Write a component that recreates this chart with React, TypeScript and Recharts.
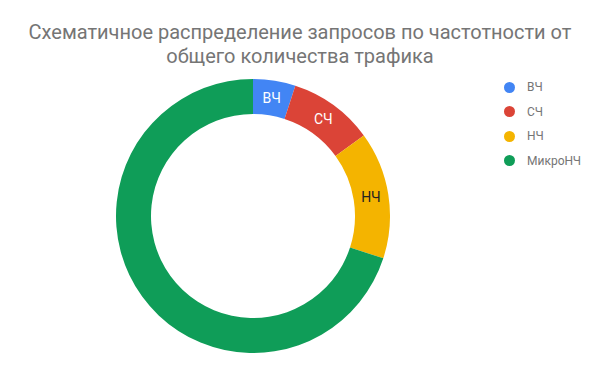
import React from 'react'
import { PieChart, Pie, Cell, Legend } from 'recharts'

document.body.style.margin = '0'

const title = ['Схематичное распределение запросов по частотности от', 'общего количества трафика']
const categories = ['ВЧ', 'СЧ', 'НЧ', 'МикроНЧ']
const shares = [5, 10, 15, 70]
const colors = ['#4285F4', '#DB4437', '#F4B400', '#0F9D58']
const labelColors = ['#ffffff', '#ffffff', '#222222', '#ffffff']

const data = categories.map((name, i) => ({ name, value: shares[i] }))

const RAD = Math.PI / 180

function renderLabel(props: any) {
  const { cx, cy, midAngle, innerRadius, outerRadius, index, name } = props
  // only label slices big enough, the big green one is left blank
  if (index === 3) return null
  const r = (innerRadius + outerRadius) / 2
  const x = cx + r * Math.cos(-midAngle * RAD)
  const y = cy + r * Math.sin(-midAngle * RAD)
  return (
    <text
      x={x}
      y={y}
      fill={labelColors[index]}
      textAnchor="middle"
      dominantBaseline="central"
      fontSize={14}
      fontFamily="Roboto"
    >
      {name}
    </text>
  )
}

function LegendList() {
  return (
    <div style={{ fontFamily: 'Roboto', fontSize: 12, color: '#757575' }}>
      {categories.map((c, i) => (
        <div key={c} style={{ display: 'flex', alignItems: 'center', height: 24.5 }}>
          <span
            style={{
              width: 11,
              height: 11,
              borderRadius: '50%',
              background: colors[i],
              display: 'inline-block',
              marginRight: 12,
            }}
          />
          {c}
        </div>
      ))}
    </div>
  )
}

export default function App() {
  return (
    <div style={{ position: 'relative', width: 600, height: 371, background: '#fff' }}>
      <div
        style={{
          position: 'absolute',
          top: 20,
          left: 0,
          width: 600,
          textAlign: 'center',
          fontFamily: 'Roboto',
          fontSize: 20,
          lineHeight: '24px',
          color: '#757575',
        }}
      >
        {title.map((t) => (
          <div key={t}>{t}</div>
        ))}
      </div>
      <PieChart width={600} height={371}>
        <Pie
          data={data}
          dataKey="value"
          nameKey="name"
          cx={248}
          cy={211}
          innerRadius={102}
          outerRadius={137}
          startAngle={90}
          endAngle={-270}
          stroke="none"
          label={renderLabel}
          labelLine={false}
          isAnimationActive={false}
        >
          {data.map((d, i) => (
            <Cell key={d.name} fill={colors[i]} />
          ))}
        </Pie>
        <Legend
          layout="vertical"
          verticalAlign="top"
          align="right"
          wrapperStyle={{ top: 75, left: 504, width: 96 }}
          content={() => <LegendList />}
        />
      </PieChart>
    </div>
  )
}
